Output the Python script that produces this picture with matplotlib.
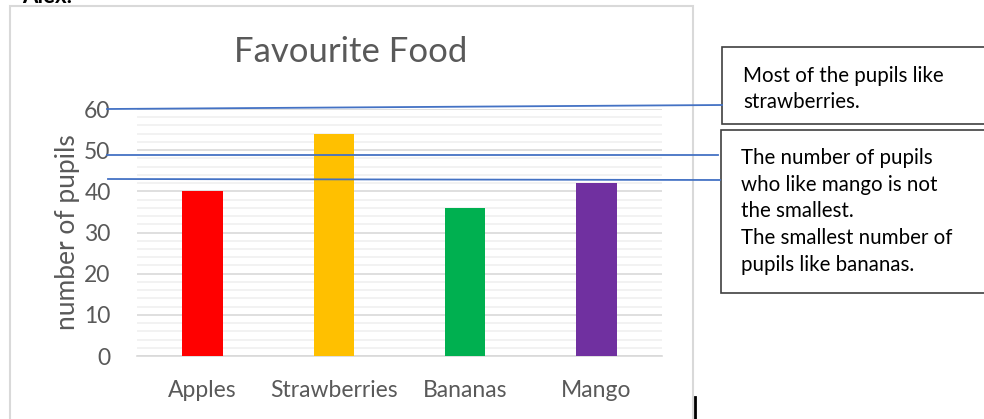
import matplotlib
matplotlib.use('Agg')
import matplotlib.pyplot as plt
from matplotlib.lines import Line2D
from matplotlib.patches import Rectangle

plt.rcParams['font.family'] = ['Lato', 'DejaVu Sans']

# chart data
foods = ['Apples', 'Strawberries', 'Bananas', 'Mango']
pupils = [40, 54, 36, 42]
bar_colors = ['#ff0000', '#ffc000', '#00b050', '#7030a0']

note1 = ['Most of the pupils like', 'strawberries.']
note2 = ['The number of pupils', 'who like mango is not', 'the smallest.',
         'The smallest number of', 'pupils like bananas.']

W, H = 984, 419


def fx(x):
    return x / W


def fy(y):
    return 1 - y / H


fig = plt.figure(figsize=(W / 100, H / 100), dpi=100)

# chart frame
fig.add_artist(Rectangle((fx(10), fy(430)), fx(683), 424 / H, transform=fig.transFigure,
                         fill=False, edgecolor='#d9d9d9', linewidth=1.5))
fig.text(fx(22), fy(3), 'Alex.', fontsize=16, fontweight='bold', va='baseline', ha='left')

ax = fig.add_axes([fx(137), fy(356), fx(525), 247 / H])
x = range(len(foods))
ax.bar(x, pupils, width=0.31, color=bar_colors, zorder=3)
ax.set_xlim(-0.5, len(foods) - 0.5)
ax.set_ylim(0, 60)
ax.set_yticks(range(0, 61, 10))
ax.set_yticks(range(0, 61, 2), minor=True)
ax.set_xticks(list(x))
ax.set_xticklabels(foods)
ax.grid(axis='y', which='major', color='#d9d9d9', linewidth=1.2, zorder=0)
ax.grid(axis='y', which='minor', color='#f0f0f0', linewidth=1.2, zorder=0)
for s in ['top', 'right', 'left']:
    ax.spines[s].set_visible(False)
ax.spines['bottom'].set_color('#d9d9d9')
ax.spines['bottom'].set_linewidth(1.2)
ax.tick_params(axis='both', which='both', length=0, labelsize=16.5, labelcolor='#595959')
ax.tick_params(axis='y', pad=19)
ax.tick_params(axis='x', pad=17)
ax.set_ylabel('number of pupils', fontsize=19, color='#595959', labelpad=3)
fig.text(fx(351), fy(52), 'Favourite Food', fontsize=25, color='#595959',
         ha='center', va='center')

# pointer lines to the notes
blue = '#4472c4'
for (x0, y0, x1, y1) in [(107, 109, 722, 105), (107, 155, 718, 155), (108, 179, 720, 180)]:
    fig.add_artist(Line2D([fx(x0), fx(x1)], [fy(y0), fy(y1)], transform=fig.transFigure,
                          color=blue, linewidth=1.3))

# note boxes
fig.add_artist(Rectangle((fx(722), fy(124)), fx(270), 77 / H, transform=fig.transFigure,
                         fill=True, facecolor='white', edgecolor='#404040', linewidth=1.2))
fig.add_artist(Rectangle((fx(721), fy(293)), fx(270), 163 / H, transform=fig.transFigure,
                         fill=True, facecolor='white', edgecolor='#404040', linewidth=1.2))
for i, line in enumerate(note1):
    fig.text(fx(743), fy(82 + 26.5 * i), line, fontsize=14.8, va='baseline', ha='left')
for i, line in enumerate(note2):
    fig.text(fx(741), fy(164 + 26.7 * i), line, fontsize=14.8, va='baseline', ha='left')

# text cursor
fig.add_artist(Line2D([fx(695), fx(695)], [fy(397), fy(419)], transform=fig.transFigure,
                      color='black', linewidth=2))

fig.savefig('out.png', dpi=100)
